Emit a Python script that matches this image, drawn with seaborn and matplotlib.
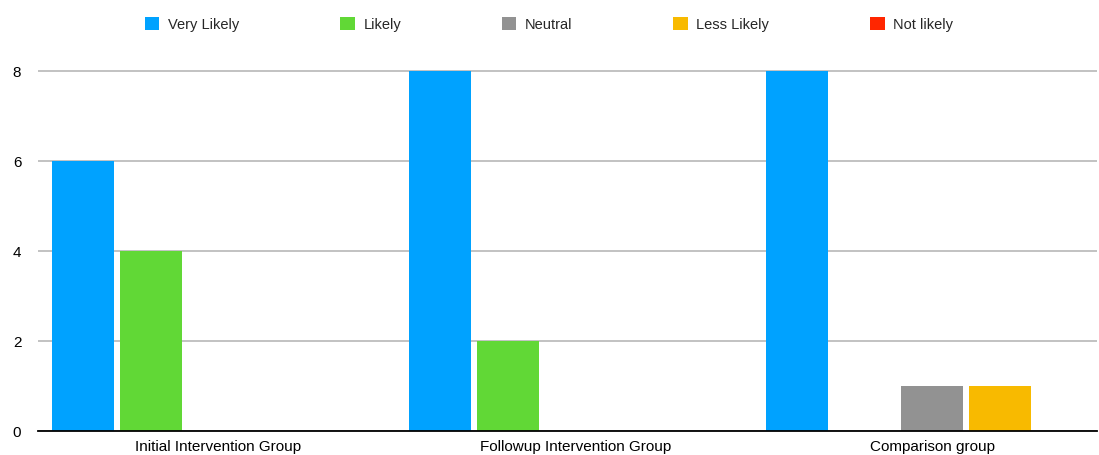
import matplotlib
matplotlib.use("Agg")
import matplotlib.pyplot as plt
import seaborn as sns
import pandas as pd
from matplotlib.patches import Patch

groups = ["Initial Intervention Group", "Followup Intervention Group", "Comparison group"]
responses = ["Very Likely", "Likely", "Neutral", "Less Likely", "Not likely"]
very_likely = [6, 8, 8]
likely = [4, 2, 0]
neutral = [0, 0, 1]
less_likely = [0, 0, 1]
not_likely = [0, 0, 0]
colors = ["#00A2FF", "#61D836", "#929292", "#F8BA00", "#FF2600"]
yticks = [0, 2, 4, 6, 8]

series = [very_likely, likely, neutral, less_likely, not_likely]
rows = []
for resp, vals in zip(responses, series):
    for g, v in zip(groups, vals):
        rows.append({"group": g, "response": resp, "count": v})
df = pd.DataFrame(rows)

sns.set_theme(style="white")
plt.rcParams["font.family"] = ["Liberation Sans", "DejaVu Sans"]

fig = plt.figure(figsize=(10.99, 4.56), dpi=100)
ax = fig.add_axes([38 / 1099, 24.5 / 456, (1097 - 38) / 1099, (393.5 - 24.5) / 456])

sns.barplot(data=df, x="group", y="count", hue="response", order=groups,
            hue_order=responses, palette=colors, width=0.948, gap=0.084,
            saturation=1, legend=False, ax=ax, linewidth=0)

ax.set_xlim(-0.505, 2.461)
ax.set_ylim(0, 8.2)
ax.set_yticks(yticks)
ax.set_yticklabels([str(t) for t in yticks])
ax.yaxis.grid(True, color="#BDBDBD", linewidth=1.3)
ax.set_axisbelow(True)
for s in ["top", "right", "left"]:
    ax.spines[s].set_visible(False)
ax.spines["bottom"].set_color("black")
ax.spines["bottom"].set_linewidth(1.3)
ax.tick_params(axis="y", length=0, pad=12, labelsize=11, labelcolor="black")
ax.tick_params(axis="x", length=0, pad=6, labelsize=11, labelcolor="black")
ax.set_xlabel("")
ax.set_ylabel("")

handles = [Patch(facecolor=c, edgecolor="none") for c in colors]
fig.legend(handles, responses, loc="center", bbox_to_anchor=(549 / 1099, 1 - 25 / 456),
           ncol=5, frameon=False, fontsize=10.5, handlelength=1.0, handleheight=1.0,
           handletextpad=0.6, columnspacing=6.9)

fig.savefig("out.png", dpi=100)
